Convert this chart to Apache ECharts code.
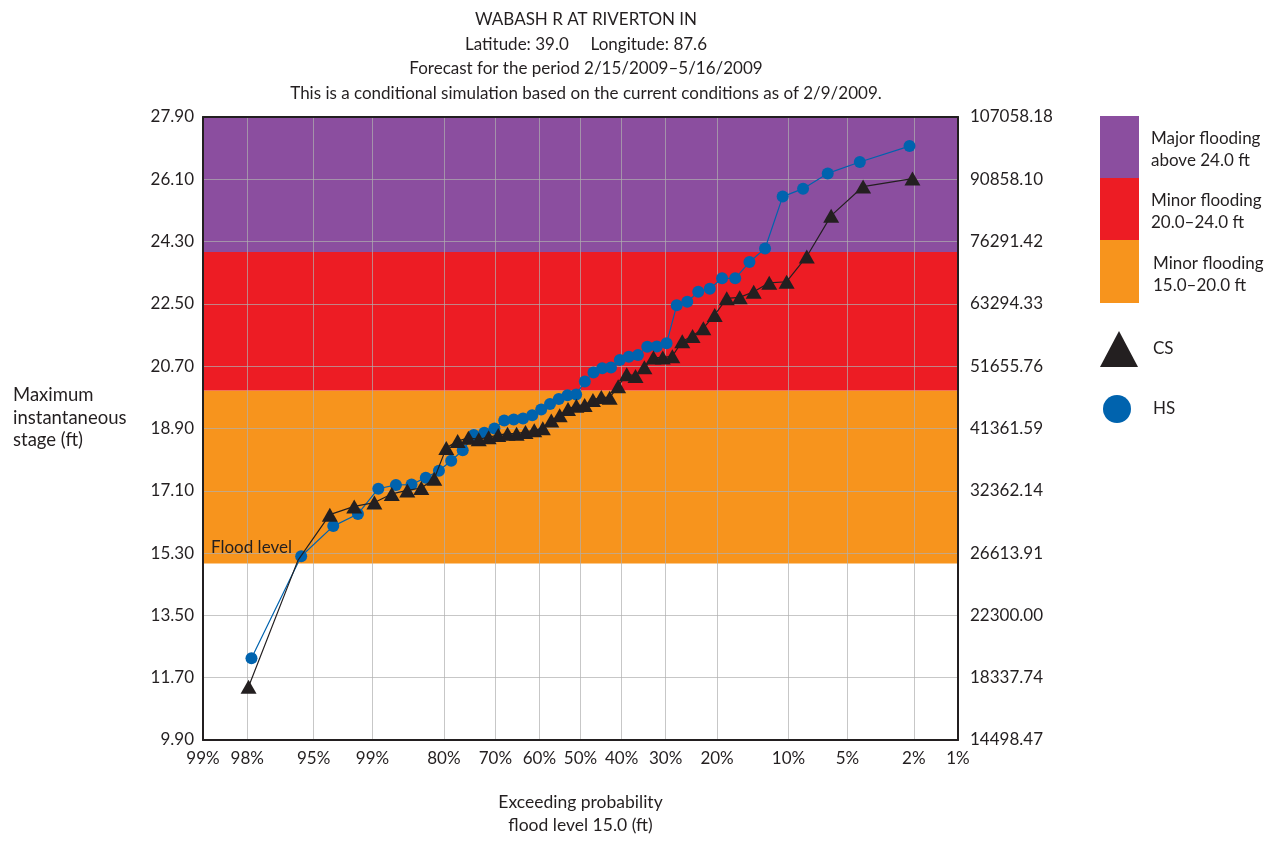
<!DOCTYPE html>
<html>
<head>
<meta charset="utf-8">
<script src="https://cdn.jsdelivr.net/npm/echarts@6/dist/echarts.min.js"></script>
<style>
html,body{margin:0;padding:0;background:#fff;}
#chart{width:1276px;height:842px;}
</style>
</head>
<body>
<div id="chart"></div>
<script>
// ---------- data ----------
// exceedance probabilities (%) of each plotted trace
const csProb = [97.96,95.92,93.88,91.84,89.80,87.76,85.71,83.67,81.63,79.59,77.55,75.51,73.47,71.43,69.39,67.35,65.31,63.27,61.22,59.18,57.14,55.10,53.06,51.02,48.98,46.94,44.90,42.86,40.82,38.78,36.73,34.69,32.65,30.61,28.57,26.53,24.49,22.45,20.41,18.37,16.33,14.29,12.24,10.20,8.16,6.12,4.08,2.04];
const csStage = [11.44,15.09,16.41,16.65,16.76,17.01,17.11,17.18,17.45,18.34,18.54,18.63,18.59,18.65,18.71,18.75,18.75,18.80,18.85,18.91,19.13,19.28,19.46,19.56,19.58,19.72,19.81,19.79,20.12,20.47,20.42,20.67,20.95,20.95,20.99,21.42,21.57,21.80,22.18,22.66,22.69,22.85,23.11,23.14,23.87,25.05,25.89,26.12];
const hsProb = [97.87,95.74,93.62,91.49,89.36,87.23,85.11,82.98,80.85,78.72,76.60,74.47,72.34,70.21,68.09,65.96,63.83,61.70,59.57,57.45,55.32,53.19,51.06,48.94,46.81,44.68,42.55,40.43,38.30,36.17,34.04,31.91,29.79,27.66,25.53,23.40,21.28,19.15,17.02,14.89,12.77,10.64,8.51,6.38,4.26,2.13];
const hsStage = [12.26,15.21,16.08,16.43,17.16,17.27,17.28,17.48,17.68,17.97,18.27,18.71,18.78,18.90,19.13,19.16,19.19,19.28,19.45,19.61,19.75,19.86,19.88,20.26,20.52,20.64,20.66,20.88,20.97,21.02,21.26,21.27,21.36,22.46,22.56,22.85,22.94,23.24,23.24,23.71,24.10,25.60,25.83,26.27,26.60,27.06];

const xTickProbs = [99,98,95,90,80,70,60,50,40,30,20,10,5,2,1];
const xTickLabels = ['99%','98%','95%','99%','80%','70%','60%','50%','40%','30%','20%','10%','5%','2%','1%'];
const stageTickLabels = ['9.90','11.70','13.50','15.30','17.10','18.90','20.70','22.50','24.30','26.10','27.90'];
const dischargeTickLabels = ['14498.47','18337.74','22300.00','26613.91','32362.14','41361.59','51655.76','63294.33','76291.42','90858.10','107058.18'];

const bandNames = ['Minor flooding\n15.0\u201320.0 ft','Minor flooding\n20.0\u201324.0 ft','Major flooding\nabove 24.0 ft'];
const bandLow = [15.0, 20.0, 24.0];
const bandHigh = [20.0, 24.0, 27.9];
const bandColors = ['#F7941D','#ED1C24','#8B4E9F'];

// ---------- probability (normal) scale ----------
function probit(p){
  const a=[-3.969683028665376e+01,2.209460984245205e+02,-2.759285104469687e+02,1.383577518672690e+02,-3.066479806614716e+01,2.506628277459239e+00];
  const b=[-5.447609879822406e+01,1.615858368580409e+02,-1.556989798598866e+02,6.680131188771972e+01,-1.328068155288572e+01];
  const c=[-7.784894002430293e-03,-3.223964580411365e-01,-2.400758277161838e+00,-2.549732539343734e+00,4.374664141464968e+00,2.938163982698783e+00];
  const d=[7.784695709041462e-03,3.224671290700398e-01,2.445134137142996e+00,3.754408661907416e+00];
  const pl=0.02425, ph=1-pl; let q,r;
  if(p<pl){q=Math.sqrt(-2*Math.log(p));return (((((c[0]*q+c[1])*q+c[2])*q+c[3])*q+c[4])*q+c[5])/((((d[0]*q+d[1])*q+d[2])*q+d[3])*q+1);}
  if(p<=ph){q=p-0.5;r=q*q;return (((((a[0]*r+a[1])*r+a[2])*r+a[3])*r+a[4])*r+a[5])*q/(((((b[0]*r+b[1])*r+b[2])*r+b[3])*r+b[4])*r+1);}
  q=Math.sqrt(-2*Math.log(1-p));return -(((((c[0]*q+c[1])*q+c[2])*q+c[3])*q+c[4])*q+c[5])/((((d[0]*q+d[1])*q+d[2])*q+d[3])*q+1);
}
const toX = p => probit(1 - p/100);
function nearestIdx(arr, v){let bi=0,bd=Infinity;arr.forEach((t,i)=>{const dd=Math.abs(t-v);if(dd<bd){bd=dd;bi=i;}});return bi;}

const xTickVals = xTickProbs.map(toX);
const yTickVals = stageTickLabels.map(Number);
const xMin = toX(99), xMax = toX(1);

const FONT = 'Lato';
const TXT = '#231f20';
const GRID_C = 'rgba(175,175,175,0.7)';

const chart = echarts.init(document.getElementById('chart'), null, {renderer:'canvas'});

const option = {
  animation: false,
  backgroundColor: '#ffffff',
  title: {
    text: 'WABASH R AT RIVERTON IN\nLatitude: 39.0     Longitude: 87.6\nForecast for the period 2/15/2009\u20135/16/2009\nThis is a conditional simulation based on the current conditions as of 2/9/2009.',
    left: 581, top: 2, textAlign: 'center',
    textStyle: {fontFamily: FONT, fontSize: 17, fontWeight: 'normal', color: TXT, lineHeight: 24.7}
  },
  legend: [
    {data:[{name:'CS', icon:'triangle'}], left: 1100, top: 331, padding: 0, orient:'vertical', itemWidth: 38, itemHeight: 36, selectedMode:false,
     textStyle:{fontFamily:FONT, fontSize:17, color:TXT, padding:[0,0,0,10]}},
    {data:[{name:'HS', icon:'circle'}], left: 1103, top: 395, padding: 0, orient:'vertical', itemWidth: 28, itemHeight: 28, selectedMode:false,
     textStyle:{fontFamily:FONT, fontSize:17, color:TXT, padding:[0,0,0,17]}}
  ],
  grid: {left: 203, right: 318, top: 117, bottom: 98, containLabel: false},
  xAxis: [
    {type:'value', position:'bottom', min:xMin, max:xMax, z:1,
     axisLine:{show:true, onZero:false, lineStyle:{color:'#231f20', width:2}},
     axisTick:{show:false, customValues: xTickVals},
     axisLabel:{customValues: xTickVals, margin: 10, fontFamily:FONT, fontSize:17, color:TXT,
       formatter: v => xTickLabels[nearestIdx(xTickVals, v)]},
     splitLine:{show:true, lineStyle:{color:GRID_C, width:1}},
     name:'Exceeding probability\nflood level 15.0 (ft)', nameLocation:'middle', nameGap: 51,
     nameTextStyle:{fontFamily:FONT, fontSize:17.5, color:TXT, lineHeight:23}
    },
    {type:'value', position:'top', min:xMin, max:xMax, z:1,
     axisLine:{show:true, onZero:false, lineStyle:{color:'#231f20', width:2}},
     axisTick:{show:false}, axisLabel:{show:false}, splitLine:{show:false}}
  ],
  yAxis: [
    {type:'value', position:'left', min:9.9, max:27.9, z:1,
     axisLine:{show:true, onZero:false, lineStyle:{color:'#231f20', width:2}},
     axisTick:{show:false, customValues: yTickVals},
     axisLabel:{customValues: yTickVals, margin: 9, fontFamily:FONT, fontSize:17, color:TXT,
       formatter: v => stageTickLabels[nearestIdx(yTickVals, v)]},
     splitLine:{show:true, lineStyle:{color:GRID_C, width:1}}
    },
    {type:'value', position:'right', min:9.9, max:27.9, z:1,
     axisLine:{show:true, onZero:false, lineStyle:{color:'#231f20', width:2}},
     axisTick:{show:false, customValues: yTickVals},
     axisLabel:{customValues: yTickVals, margin: 12, fontFamily:FONT, fontSize:17, color:TXT,
       formatter: v => dischargeTickLabels[nearestIdx(yTickVals, v)]},
     splitLine:{show:false}
    }
  ],
  graphic: [
    {type:'text', left: 13, top: 384, style:{text:'Maximum\ninstantaneous\nstage (ft)', font:'18.5px Lato', fill:TXT, lineHeight:22.5}},
    {type:'text', left: 211, top: 539, z: 10, style:{text:'Flood level', font:'17px Lato', fill:TXT}},
    {type:'rect', shape:{x:1100, y:116, width:39, height:62}, style:{fill:bandColors[2]}},
    {type:'rect', shape:{x:1100, y:178, width:39, height:62}, style:{fill:bandColors[1]}},
    {type:'rect', shape:{x:1100, y:240, width:39, height:63}, style:{fill:bandColors[0]}},
    {type:'text', left: 1151, top: 128, style:{text:bandNames[2], font:'17px Lato', fill:TXT, lineHeight:22}},
    {type:'text', left: 1151, top: 190, style:{text:bandNames[1], font:'17px Lato', fill:TXT, lineHeight:22}},
    {type:'text', left: 1153, top: 253, style:{text:bandNames[0], font:'17px Lato', fill:TXT, lineHeight:22}}
  ],
  series: [
    {
      name:'bands', type:'custom', z:0, silent:true, xAxisIndex:0, yAxisIndex:0,
      data: bandLow.map((lo,i)=>[0, lo, bandHigh[i], i]),
      encode:{x:0, y:[1,2]},
      renderItem: function(params, api){
        const cs = params.coordSys;
        const yTop = api.coord([0, api.value(2)])[1];
        const yBot = api.coord([0, api.value(1)])[1];
        return {type:'rect', shape:{x:cs.x, y:yTop, width:cs.width, height:yBot-yTop},
                style:{fill: bandColors[api.value(3)]}};
      }
    },
    {
      name:'HS', type:'line', z:2,
      data: hsProb.map((p,i)=>[toX(p), hsStage[i]]),
      symbol:'circle', symbolSize:12,
      itemStyle:{color:'#0063ae'},
      lineStyle:{color:'#0063ae', width:1.2}
    },
    {
      name:'CS', type:'line', z:3,
      data: csProb.map((p,i)=>[toX(p), csStage[i]]),
      symbol:'triangle',
      symbolSize: (val, params) => params.dataIndex === 1 ? 0 : [16, 14],
      itemStyle:{color:'#231f20'},
      lineStyle:{color:'#231f20', width:1.2}
    }
  ]
};
chart.setOption(option);
</script>
</body>
</html>
